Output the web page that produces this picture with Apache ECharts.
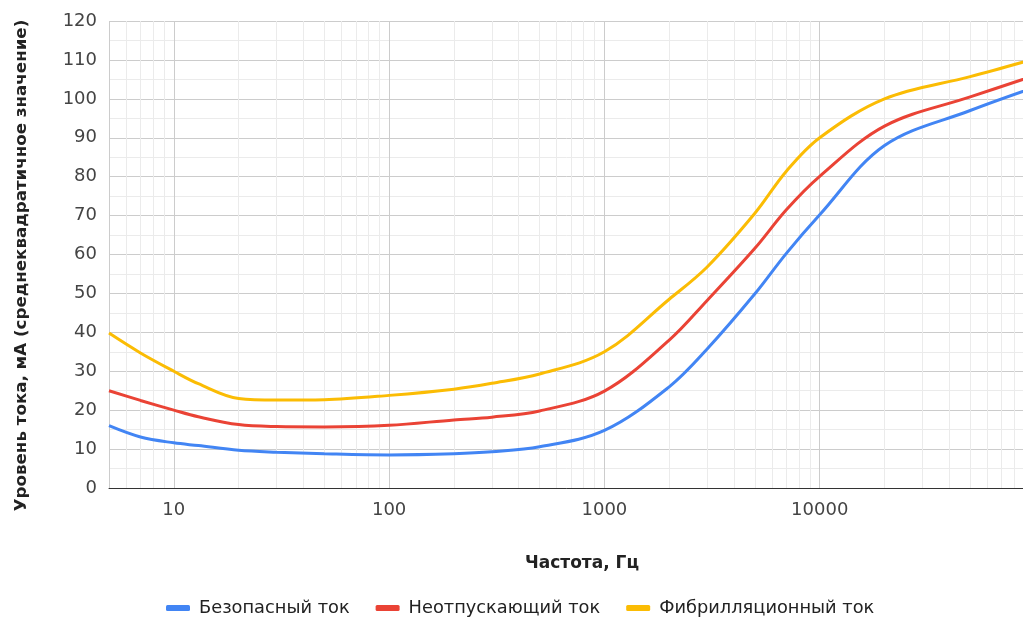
<!DOCTYPE html>
<html>
<head>
<meta charset="utf-8">
<script src="https://cdn.jsdelivr.net/npm/echarts@6/dist/echarts.min.js"></script>
<style>
html,body{margin:0;padding:0;background:#fff;}
#c{width:1023px;height:619px;}
</style>
</head>
<body>
<div id="c"></div>
<script>
const freq = [5, 7, 10, 13, 20, 30, 50, 100, 200, 300, 500, 1000, 2000, 3000, 5000, 7000, 10000, 20000, 50000, 100000];
const safeCurrent = [16, 13.1, 11.6, 10.9, 9.7, 9.2, 8.8, 8.5, 8.8, 9.3, 10.6, 14.8, 26, 35.7, 49.9, 60.3, 70.2, 88, 97, 103];
const letGoCurrent = [25, 22.5, 20, 18.3, 16.3, 15.8, 15.7, 16.1, 17.5, 18.2, 19.8, 24.9, 38, 48.2, 61.6, 71.5, 80.1, 93, 100.5, 106];
const fibrillationCurrent = [39.8, 34.7, 30, 26.8, 23, 22.6, 22.7, 23.8, 25.4, 26.9, 29.3, 35, 48.5, 56.8, 70.6, 81.4, 90, 100, 105.7, 110.3];
const seriesNames = ['Безопасный ток', 'Неотпускающий ток', 'Фибрилляционный ток'];
const minorGridX = [6,7,8,9,20,30,40,50,60,70,80,90,200,300,400,500,600,700,800,900,
  2000,3000,4000,5000,6000,7000,8000,9000,20000,30000,40000,50000,60000,70000,80000,90000];
const xTickLabels = [10, 100, 1000, 10000];

const colors = ['#4285F4', '#EA4335', '#FBBC04'];
const FONT = 'DejaVu Sans';

function pairs(vals) { return freq.map((f, i) => [f, vals[i]]); }

const chart = echarts.init(document.getElementById('c'), null, {renderer: 'canvas'});
chart.setOption({
  animation: false,
  backgroundColor: '#ffffff',
  grid: {left: 109, top: 21, bottom: 131, right: -12, containLabel: false, outerBoundsMode: 'none'},
  xAxis: {
    type: 'log', logBase: 10, min: 5, max: 100000,
    name: 'Частота, Гц', nameLocation: 'middle', nameGap: 67,
    nameTextStyle: {fontFamily: FONT, fontWeight: 'bold', fontSize: 17, color: '#222', padding: [0, 0, 0, 20]},
    axisLine: {show: true, lineStyle: {color: '#333333', width: 1}},
    axisTick: {show: false},
    axisLabel: {
      fontFamily: FONT, fontSize: 18, color: '#444', margin: 13,
      showMinLabel: false, showMaxLabel: false,
      formatter: v => xTickLabels.indexOf(Math.round(v)) >= 0 ? String(Math.round(v)) : ''
    },
    splitLine: {show: true, lineStyle: {color: '#cccccc', width: 1}}
  },
  yAxis: {
    type: 'value', min: 0, max: 120, interval: 10,
    name: 'Уровень тока, мА (среднеквадратичное значение)', nameLocation: 'middle', nameGap: 79,
    nameTextStyle: {fontFamily: FONT, fontWeight: 'bold', fontSize: 16.7, color: '#222', padding: [0, 22, 0, 0]},
    axisLine: {show: false}, axisTick: {show: false},
    axisLabel: {fontFamily: FONT, fontSize: 18, color: '#444', margin: 12},
    splitLine: {show: true, lineStyle: {color: '#cccccc', width: 1}},
    minorTick: {show: false, splitNumber: 2},
    minorSplitLine: {show: true, lineStyle: {color: '#ebebeb', width: 1}}
  },
  legend: {
    bottom: -3, left: 161, icon: 'roundRect', itemWidth: 24, itemHeight: 6, itemGap: 26,
    textStyle: {fontFamily: FONT, fontSize: 17.8, color: '#222', padding: [0, 0, 0, 4]},
    data: seriesNames
  },
  series: [
    {
      type: 'line', name: '_grid', data: [], silent: true, z: 1,
      markLine: {
        silent: true, symbol: 'none', z: 1, animation: false,
        label: {show: false},
        lineStyle: {color: '#ebebeb', width: 1, type: 'solid'},
        emphasis: {disabled: true},
        data: minorGridX.map(v => ({xAxis: v}))
      }
    },
    {type: 'line', name: seriesNames[0], data: pairs(safeCurrent), smooth: 0.35, showSymbol: false, z: 3,
     lineStyle: {color: colors[0], width: 3}, itemStyle: {color: colors[0]}},
    {type: 'line', name: seriesNames[1], data: pairs(letGoCurrent), smooth: 0.35, showSymbol: false, z: 3,
     lineStyle: {color: colors[1], width: 3}, itemStyle: {color: colors[1]}},
    {type: 'line', name: seriesNames[2], data: pairs(fibrillationCurrent), smooth: 0.35, showSymbol: false, z: 3,
     lineStyle: {color: colors[2], width: 3}, itemStyle: {color: colors[2]}}
  ]
});
</script>
</body>
</html>
